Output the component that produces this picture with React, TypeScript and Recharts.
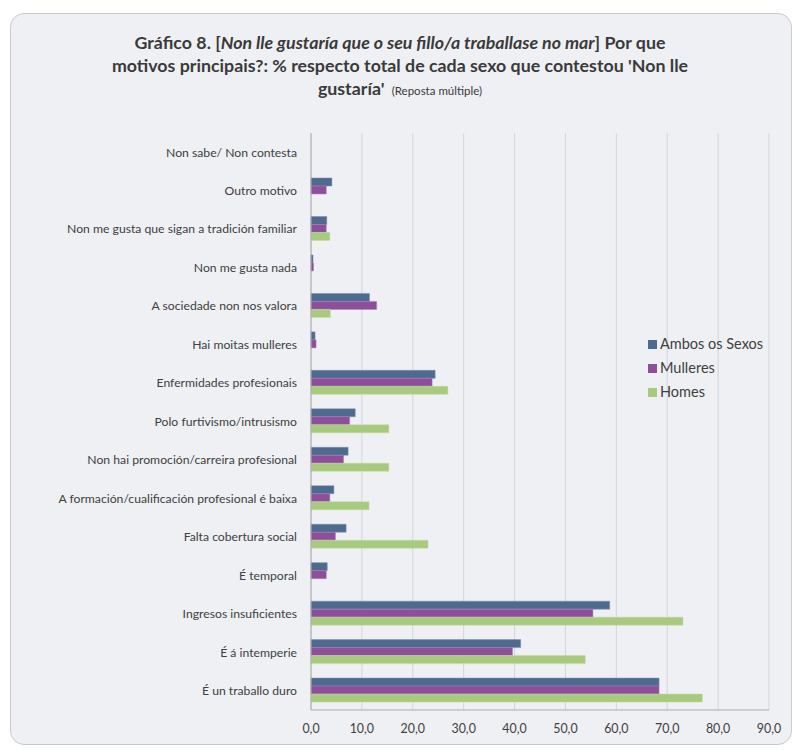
import { BarChart, Bar, XAxis, YAxis, CartesianGrid } from 'recharts';

const categories = [
  'Non sabe/ Non contesta',
  'Outro motivo',
  'Non me gusta que sigan a tradición familiar',
  'Non me gusta nada',
  'A sociedade non nos valora',
  'Hai moitas mulleres',
  'Enfermidades profesionais',
  'Polo furtivismo/intrusismo',
  'Non hai promoción/carreira profesional',
  'A formación/cualificación profesional é baixa',
  'Falta cobertura social',
  'É temporal',
  'Ingresos insuficientes',
  'É á intemperie',
  'É un traballo duro',
];

const ambos = [0, 4.1, 3.1, 0.4, 11.5, 0.8, 24.4, 8.7, 7.3, 4.5, 6.9, 3.2, 58.7, 41.2, 68.4];
const mulleres = [0, 3.0, 3.0, 0.5, 12.9, 1.0, 23.8, 7.6, 6.4, 3.7, 4.8, 3.0, 55.4, 39.6, 68.4];
const homes = [0, 0, 3.7, 0, 3.8, 0, 26.9, 15.3, 15.3, 11.4, 23.0, 0, 73.1, 53.9, 76.9];

const xTicks = [0, 10, 20, 30, 40, 50, 60, 70, 80, 90];

const series = [
  { key: 'ambos', name: 'Ambos os Sexos', fill: '#4e6a8e', stroke: '#7d93b0' },
  { key: 'mulleres', name: 'Mulleres', fill: '#8d4f99', stroke: '#b07cba' },
  { key: 'homes', name: 'Homes', fill: '#a8ca7e', stroke: '#c3dba3' },
];

const data = categories.map((name, i) => ({
  name,
  ambos: ambos[i],
  mulleres: mulleres[i],
  homes: homes[i],
}));

const FONT = 'Lato, "Open Sans", sans-serif';

export default function App() {
  return (
    <div style={{ position: 'absolute', left: 0, top: 0, width: 796, height: 750, background: '#fff', fontFamily: FONT }}>
      <div
        style={{
          position: 'absolute',
          left: 10,
          top: 13,
          width: 780,
          height: 730,
          background: '#eef0f4',
          border: '1px solid #c8cacd',
          borderRadius: 14,
        }}
      />
      <div
        style={{
          position: 'absolute',
          left: 20,
          top: 31,
          width: 760,
          textAlign: 'center',
          fontWeight: 700,
          fontSize: 17.8,
          lineHeight: '23px',
          color: '#3a3a3a',
        }}
      >
        Gráfico 8. [<i>Non lle gustaría que o seu fillo/a traballase no mar</i>] Por que
        <br />
        motivos principais?: % respecto total de cada sexo que contestou 'Non lle
        <br />
        gustaría'{' '}
        <span style={{ fontWeight: 400, fontSize: 11.5 }}>&nbsp;(Reposta múltiple)</span>
      </div>
      <div style={{ position: 'absolute', left: 0, top: 0 }}>
        <BarChart
          width={796}
          height={750}
          data={data}
          layout="vertical"
          margin={{ top: 133, right: 27, bottom: 10, left: 0 }}
          barCategoryGap="17%"
          barGap={0}
        >
          <CartesianGrid horizontal={false} stroke="#d3d5d9" />
          <XAxis
            type="number"
            domain={[0, 90]}
            ticks={xTicks}
            tickFormatter={(v) => v.toFixed(1).replace('.', ',')}
            stroke="#a9abae"
            height={30}
            tick={{ fill: '#404040', fontSize: 12.4, fontFamily: FONT }}
            tickLine={false}
            tickMargin={8}
          />
          <YAxis
            type="category"
            dataKey="name"
            width={311}
            stroke="#a9abae"
            tickLine={false}
            tick={{ fill: '#404040', fontSize: 12.2, fontFamily: FONT }}
            tickMargin={8}
            interval={0}
          />
          {series.map((s) => (
            <Bar
              key={s.key}
              dataKey={s.key}
              name={s.name}
              fill={s.fill}
              stroke={s.stroke}
              strokeWidth={0.5}
              isAnimationActive={false}
            />
          ))}
        </BarChart>
      </div>
      <div style={{ position: 'absolute', left: 648, top: 332, fontSize: 14.5, lineHeight: '24px', color: '#404040' }}>
        {series.map((s) => (
          <div key={s.key} style={{ display: 'flex', alignItems: 'center' }}>
            <span style={{ display: 'inline-block', width: 9, height: 9, background: s.fill, marginRight: 3 }} />
            {s.name}
          </div>
        ))}
      </div>
    </div>
  );
}
